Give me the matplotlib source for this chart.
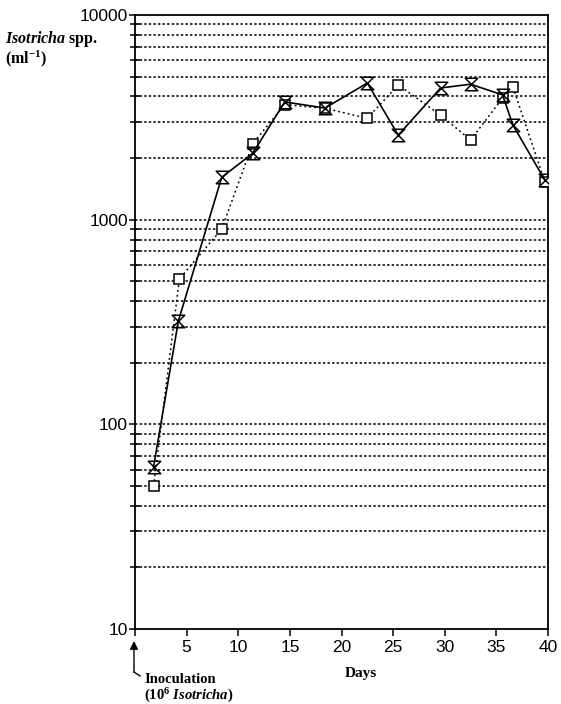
import numpy as np
import matplotlib
matplotlib.use("Agg")
import matplotlib.pyplot as plt
from matplotlib.path import Path
from matplotlib.lines import Line2D
from matplotlib.transforms import IdentityTransform
from matplotlib.ticker import FixedLocator, NullFormatter

# データ
days_a = [1.8, 4.2, 8.4, 11.4, 14.5, 18.4, 22.5, 25.5, 29.6, 32.5, 35.6, 36.6, 39.7]
conc_a = [62, 320, 1610, 2110, 3760, 3510, 4650, 2590, 4400, 4590, 4070, 2900, 1560]

days_b = [1.8, 4.3, 8.4, 11.4, 14.5, 18.4, 22.5, 25.5, 29.6, 32.5, 35.6, 36.6, 39.7]
conc_b = [50, 513, 900, 2350, 3650, 3500, 3130, 4550, 3240, 2450, 3930, 4450, 1530]

x_ticks = [0, 5, 10, 15, 20, 25, 30, 35, 40]
x_labels = ["", "5", "10", "15", "20", "25", "30", "35", "40"]
y_major = [10, 100, 1000, 10000]
y_labels = ["10", "100", "1000", "10000"]

plt.rcParams['mathtext.fontset'] = 'custom'
plt.rcParams['mathtext.rm'] = 'Liberation Serif:bold'
plt.rcParams['mathtext.it'] = 'Liberation Serif:italic:bold'
plt.rcParams['mathtext.bf'] = 'Liberation Serif:bold'

# 砂時計マーカー
hourglass = Path([(-1, 1), (1, 1), (-1, -1), (1, -1), (-1, 1)],
                 [Path.MOVETO, Path.LINETO, Path.LINETO, Path.LINETO, Path.CLOSEPOLY])

fig = plt.figure(figsize=(5.61, 7.04), dpi=100)
ax = fig.add_axes([135 / 561, 1 - 629 / 704, 413 / 561, 614 / 704])

ax.set_yscale('log')
ax.set_xlim(0, 40)
ax.set_ylim(10, 10000)

# 点線グリッド
minors = [m * 10 ** e for e in range(1, 4) for m in range(2, 10)]
for v in minors + [100, 1000]:
    ax.axhline(v, color='black', lw=1.1, ls=(0, (1.6, 1.4)), zorder=1)

ax.plot(days_b, conc_b, color='black', lw=1.1, ls=(0, (1.2, 2.0)),
        marker='s', ms=7.5, mfc='white', mec='black', mew=1.1, zorder=3)
ax.plot(days_a, conc_a, color='black', lw=1.2, ls='-',
        marker=hourglass, ms=9, mfc='none', mec='black', mew=1.1, zorder=4)

ax.yaxis.set_major_locator(FixedLocator(y_major))
ax.set_yticklabels(y_labels)
ax.yaxis.set_minor_locator(FixedLocator(minors))
ax.yaxis.set_minor_formatter(NullFormatter())
ax.set_xticks(x_ticks)
ax.set_xticklabels(x_labels)

for lab in ax.get_xticklabels() + ax.get_yticklabels():
    lab.set_family('Liberation Sans')
    lab.set_fontsize(12.5)

ax.tick_params(axis='y', which='major', direction='out', length=4.5, width=1.1, pad=0.5)
ax.tick_params(axis='y', which='minor', direction='inout', length=7, width=1.1)
ax.tick_params(axis='x', which='major', direction='out', length=5, width=1.1, pad=3)
for s in ax.spines.values():
    s.set_linewidth(1.3)

# ラベル（位置はピクセル、上からの値で指定）
serif = dict(family='Liberation Serif', weight='bold', transform=IdentityTransform())
fig.text(5, 704 - 49, r'$\mathit{Isotricha}$ spp.' + '\n' + r'(ml$^{-1}$)',
         va='center', ha='left', fontsize=11.5, linespacing=0.95, **serif)
fig.text(361, 704 - 673, 'Days', va='center', ha='center', fontsize=11, **serif)
fig.text(144, 704 - 689, 'Inoculation' + '\n' + r'(10$^{6}$ $\mathit{Isotricha}$)',
         va='center', ha='left', fontsize=10.5, linespacing=1.0, **serif)

# 接種の矢印
ax.annotate('', xy=(134, 704 - 641), xycoords='figure pixels',
            xytext=(134, 704 - 672), textcoords='figure pixels',
            arrowprops=dict(arrowstyle='-|>', color='black', lw=1.0,
                            mutation_scale=12, shrinkA=0, shrinkB=0))
fig.add_artist(Line2D([134 / 561, 140 / 561], [(704 - 672) / 704, (704 - 676) / 704],
                      color='black', lw=1.0))

plt.savefig('out.png', dpi=100)
